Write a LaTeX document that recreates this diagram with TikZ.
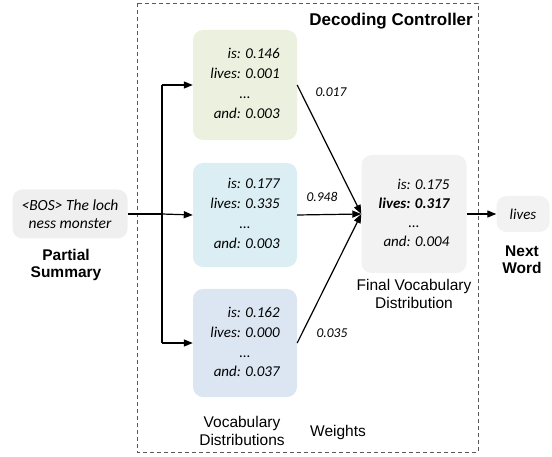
\documentclass[tikz,border=0pt]{standalone}
\usepackage{fontspec}
\setmainfont{Liberation Sans}
\newfontfamily\carl{Carlito}
\usetikzlibrary{arrows.meta}
\definecolor{boxgreen}{HTML}{EBF1DE}
\definecolor{boxcyan}{HTML}{DBEEF3}
\definecolor{boxblue}{HTML}{DCE6F2}
\definecolor{boxgray}{HTML}{F2F2F2}
\definecolor{inpgray}{HTML}{EFEFEF}
\definecolor{framegray}{HTML}{595959}
\tikzset{
  distbox/.style={rounded corners=10pt, minimum width=104pt, inner sep=0pt,
    font=\carl\itshape\fontsize{15}{20}\selectfont},
  conn/.style={line width=1.2pt, -{Triangle[length=9pt,width=7pt]}},
  plainline/.style={line width=1.2pt},
  wlabel/.style={font=\carl\itshape\fontsize{13.5}{16}\selectfont, inner sep=0pt},
  caption/.style={font=\fontsize{15.5}{18}\selectfont, align=center, inner sep=0pt},
  boldcap/.style={font=\bfseries\fontsize{15.5}{17}\selectfont, align=center, inner sep=0pt},
}
\newcommand{\distlines}[4]{\begin{tabular}{@{}r@{}}#1\\#2\\\multicolumn{1}{@{}c@{}}{...}\\#4\end{tabular}}
\begin{document}
\begin{tikzpicture}[x=1pt,y=-1pt]
\useasboundingbox (0,0) rectangle (552,457);
% frame
\draw[framegray, line width=0.8pt, dash pattern=on 4pt off 3pt] (137,3) rectangle (478,452);
\node[font=\bfseries\fontsize{17}{20}\selectfont, anchor=east, inner sep=0pt] (title) at (473,21) {Decoding Controller};
% input
\node[rounded corners=10pt, fill=inpgray, minimum width=115pt, minimum height=49pt, inner sep=0pt,
  font=\carl\itshape\fontsize{15.5}{18}\selectfont, align=center] (inp) at (70,214) {\raisebox{-1pt}{<BOS> The loch}\\\raisebox{-1pt}{ness monster}};
\node[boldcap] (inplab) at (66,265) {Partial\\Summary};
% distributions
\node[distbox, fill=boxgreen, minimum height=110pt] (d1) at (245,85) {\distlines{is: 0.146}{lives: 0.001}{}{and: 0.003}};
\node[distbox, fill=boxcyan, minimum height=104pt] (d2) at (245,215) {\distlines{is: 0.177}{lives: 0.335}{}{and: 0.003}};
\node[distbox, fill=boxblue, minimum height=108pt] (d3) at (245,343) {\distlines{is: 0.162}{lives: 0.000}{}{and: 0.037}};
\node[caption] (vlab) at (242,431) {Vocabulary\\Distributions};
\node[caption] (wlab) at (338,432) {Weights};
% final
\node[distbox, fill=boxgray, minimum width=105pt, minimum height=118pt, font=\carl\itshape\fontsize{15}{19}\selectfont] (fin) at (414,214)
  {\begin{tabular}{@{}r@{}}is: 0.175\\\textbf{lives: 0.317}\\\multicolumn{1}{@{}c@{}}{...}\\and: 0.004\end{tabular}};
\node[caption] (flab) at (414,294) {Final Vocabulary\\Distribution};
% next word
\node[rounded corners=10pt, fill=boxgray, minimum width=53pt, minimum height=36pt, inner sep=0pt,
  font=\carl\itshape\fontsize{15}{18}\selectfont] (nw) at (523,214) {lives};
\node[boldcap] (nwlab) at (522,260) {Next\\Word};
% connectors
\coordinate (split) at (162,214);
\coordinate (top) at (162,85);
\coordinate (bot) at (162,343);
\draw[plainline] (inp.east) -- (split);
\draw[plainline] (top) -- (bot);
\draw[conn] (split) -- (d2.west);
\draw[conn] (top) -- (d1.west);
\draw[conn] (bot) -- (d3.west);
\draw[conn] (d1.east) -- (fin.west);
\draw[conn] (d2.east) -- (fin.west);
\draw[conn] (d3.east) -- (fin.west);
\draw[conn] (fin.east) -- (nw.west);
% weights
\node[wlabel] (w1) at (331,92) {0.017};
\node[wlabel] (w2) at (322,197) {0.948};
\node[wlabel] (w3) at (332,333) {0.035};
\end{tikzpicture}
\end{document}
